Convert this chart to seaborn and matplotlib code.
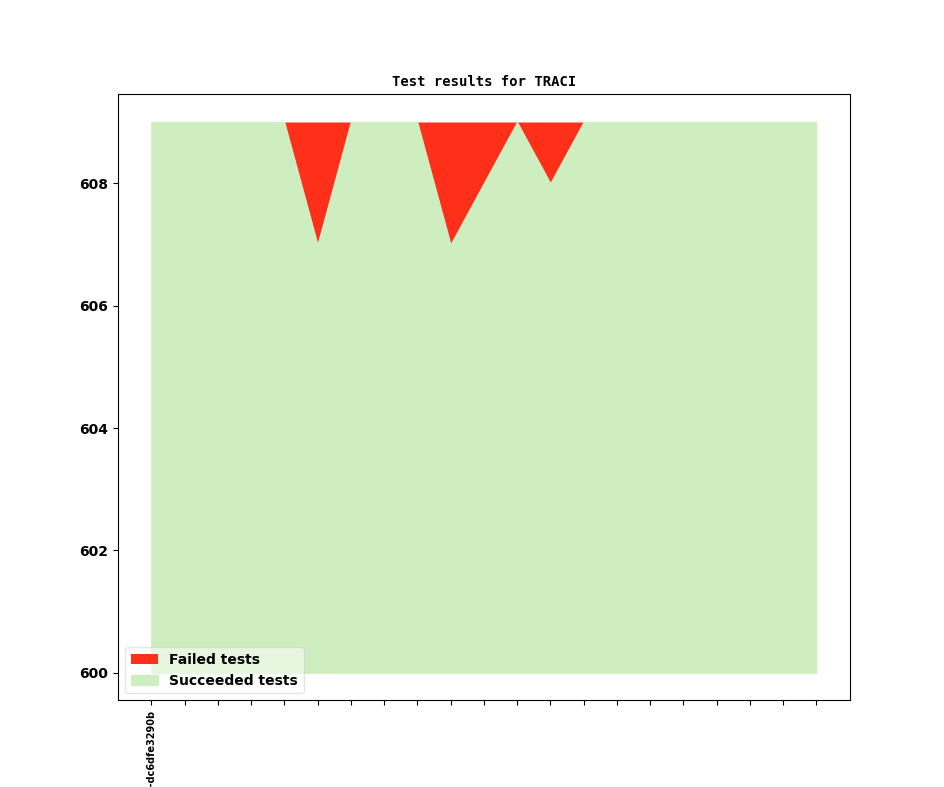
import matplotlib
matplotlib.use("Agg")
import matplotlib.pyplot as plt
import seaborn as sns

# commits (only the first one carries a label)
commits = ["v1_4_0+0826-dc6dfe3290b"] + [""] * 20
total = [609] * 21
succeeded = [609, 609, 609, 609, 609, 607, 609, 609, 609, 607, 608,
             609, 608, 609, 609, 609, 609, 609, 609, 609, 609]
failed = [t - s for t, s in zip(total, succeeded)]
base = 600

sns.set_style("ticks", {"axes.edgecolor": "black", "xtick.color": "black",
                        "ytick.color": "black", "text.color": "black"})
plt.rcParams["font.family"] = ["DejaVu Sans"]

fig, ax = plt.subplots(figsize=(9.44, 7.87), dpi=100)
x = list(range(len(commits)))

# failed area sits on top of the succeeded one
ax.fill_between(x, succeeded, [s + f for s, f in zip(succeeded, failed)],
                color="#ff3019", linewidth=0, label="Failed tests")
ax.fill_between(x, base, succeeded, color="#cfeec0", linewidth=0.8,
                label="Succeeded tests")

ax.set_xticks(x)
ax.set_xticklabels(commits, rotation=90, fontsize=7, fontweight="bold")
for lab in ax.get_yticklabels():
    lab.set_fontweight("bold")
ax.tick_params(axis="y", labelsize=10)
ax.set_title("Test results for TRACI", fontsize=10, fontweight="bold",
             family="DejaVu Sans Mono")
ax.legend(loc="lower left", prop={"weight": "bold", "size": 10}, framealpha=0.5)

fig.savefig("out.png", dpi=100)
